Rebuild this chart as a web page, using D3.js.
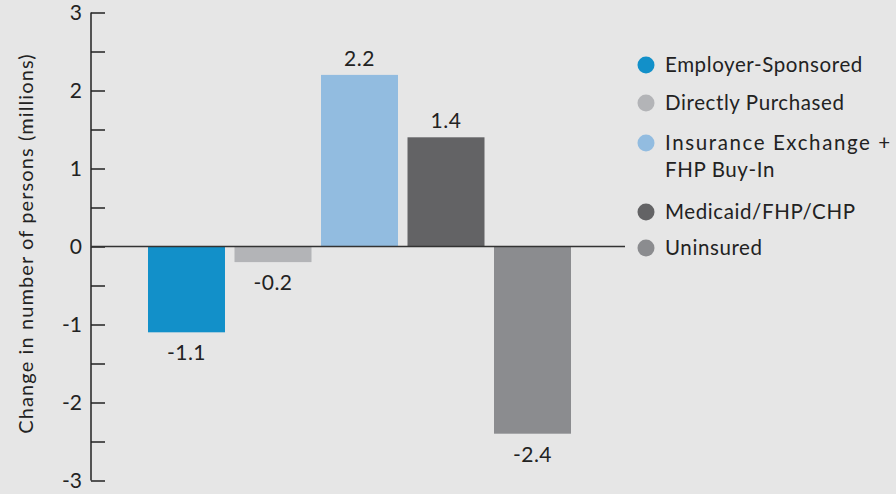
<!DOCTYPE html>
<html><head><meta charset="utf-8">
<script src="https://cdn.jsdelivr.net/npm/d3@7"></script>
<style>
html,body{margin:0;padding:0;background:#e6e6e6;}
svg{display:block;font-family:Lato,"Noto Sans",sans-serif;}
</style></head>
<body>
<svg id="chart" width="896" height="494"></svg>
<script>
const categories = ["Employer-Sponsored","Directly Purchased","Insurance Exchange + FHP Buy-In","Medicaid/FHP/CHP","Uninsured"];
const legendLines = [["Employer-Sponsored"],["Directly Purchased"],["Insurance Exchange +","FHP Buy-In"],["Medicaid/FHP/CHP"],["Uninsured"]];
const values = [-1.1,-0.2,2.2,1.4,-2.4];
const valueLabels = ["-1.1","-0.2","2.2","1.4","-2.4"];
const colors = ["#1290c9","#b3b4b7","#92bce0","#636365","#8b8c8f"];
const yTicks = [-3,-2,-1,0,1,2,3];
const yMinorTicks = [-2.5,-1.5,-0.5,0.5,1.5,2.5];

const svg = d3.select("#chart");
svg.append("rect").attr("width",896).attr("height",494).attr("fill","#e6e6e6");

const y = d3.scaleLinear().domain([-3,3]).range([480.5,12.5]);
const x = d3.scaleBand().domain(categories).range([148,571]).paddingInner(0.11).paddingOuter(0);
const axisX = 91;

// bars
svg.selectAll("rect.bar").data(values).join("rect")
  .attr("class","bar")
  .attr("x",(d,i)=>x(categories[i]))
  .attr("width",x.bandwidth())
  .attr("y",d=>Math.min(y(d),y(0)))
  .attr("height",d=>Math.abs(y(d)-y(0)))
  .attr("fill",(d,i)=>colors[i]);

// axis
const axis = d3.axisRight(y).tickValues(yTicks.concat(yMinorTicks)).tickSize(14).tickFormat("");
const ag = svg.append("g").attr("transform",`translate(${axisX},0)`).call(axis);
ag.select(".domain").attr("d",`M0,${y(3)}V${y(-3)}`).attr("stroke","#222").attr("stroke-width",1.5);
ag.selectAll(".tick line").attr("stroke","#222").attr("stroke-width",1.5);

svg.append("g").selectAll("text").data(yTicks).join("text")
  .attr("x",82).attr("y",d=>y(d)).attr("dy","0.35em")
  .attr("text-anchor","end").attr("font-size",21).attr("fill","#222")
  .text(d=>d);

// zero line
svg.append("line").attr("x1",axisX).attr("x2",625).attr("y1",y(0)).attr("y2",y(0))
  .attr("stroke","#333").attr("stroke-width",1.5);

// y title
svg.append("text").attr("transform",`translate(33,${y(0)-3}) rotate(-90)`)
  .attr("text-anchor","middle").attr("font-size",20).attr("letter-spacing",1.1).attr("fill","#222")
  .text("Change in number of persons (millions)");

// value labels
svg.append("g").selectAll("text").data(values).join("text")
  .attr("x",(d,i)=>x(categories[i])+x.bandwidth()/2)
  .attr("y",d=>d>=0 ? y(d)-9 : y(d)+28)
  .attr("text-anchor","middle").attr("font-size",21).attr("letter-spacing",0.5).attr("fill","#222")
  .text((d,i)=>valueLabels[i]);

// legend
const legendY = [65,103,143,212,248];
const lg = svg.append("g");
legendLines.forEach((lines,i)=>{
  lg.append("circle").attr("cx",646).attr("cy",legendY[i]).attr("r",8.5).attr("fill",colors[i]);
  const t = lg.append("text").attr("x",665).attr("y",legendY[i]).attr("dy","0.35em")
    .attr("font-size",20.5).attr("fill","#222");
  lines.forEach((l,j)=>{
    t.append("tspan").attr("x",665).attr("dy", j===0 ? "0.35em" : 27)
      .attr("letter-spacing", (i===2 && j===0) ? 1.6 : 0.6).text(l);
  });
});
</script>
</body></html>
